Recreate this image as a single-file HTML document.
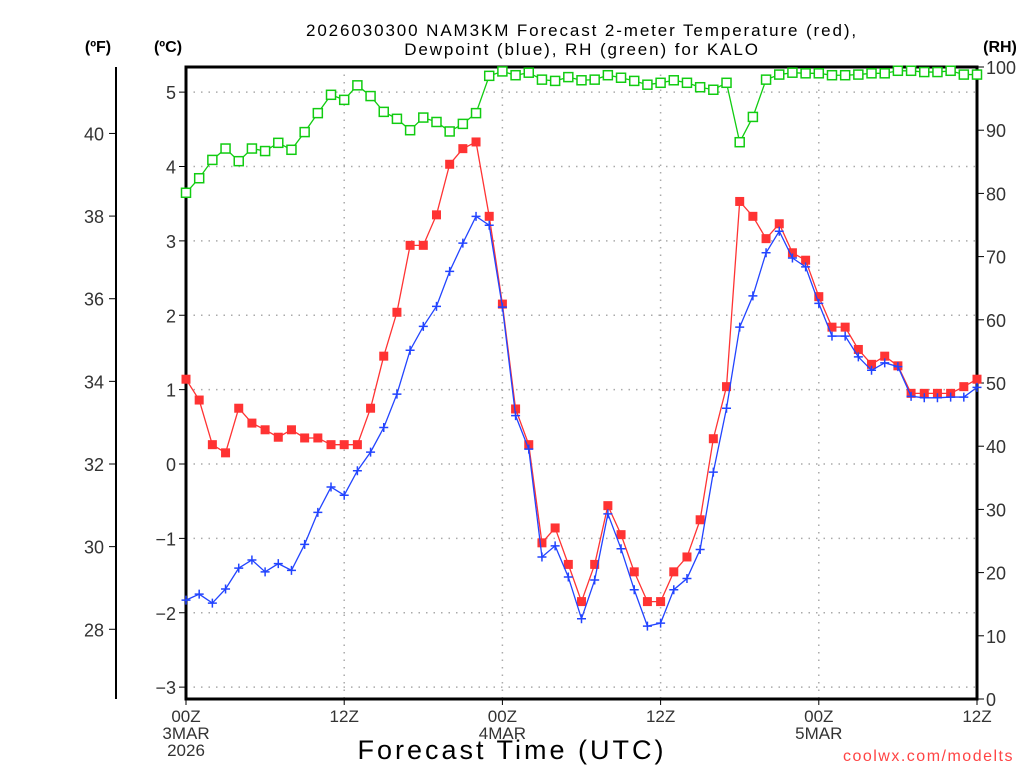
<!DOCTYPE html>
<html><head><meta charset="utf-8">
<style>
html,body{margin:0;padding:0;background:#fff;}
svg{display:block;font-family:"Liberation Sans","DejaVu Sans",sans-serif;}
</style></head>
<body>
<svg id="chart" width="1024" height="768" viewBox="0 0 1024 768" xmlns="http://www.w3.org/2000/svg">
<text x="582" y="36" font-size="17" text-anchor="middle" fill="#000" letter-spacing="1.9">2026030300 NAM3KM Forecast 2-meter Temperature (red),</text>
<text x="582" y="55" font-size="17" text-anchor="middle" fill="#000" letter-spacing="1.9">Dewpoint (blue), RH (green) for KALO</text>
<text x="98" y="52" font-size="16" font-weight="bold" text-anchor="middle">(ºF)</text>
<text x="168" y="52" font-size="16" font-weight="bold" text-anchor="middle">(ºC)</text>
<text x="1000" y="52" font-size="16" font-weight="bold" text-anchor="middle">(RH)</text>
<g id="grid"></g>
<g id="axes"></g>
<g id="series"></g>
<text x="512" y="759" font-size="27" text-anchor="middle" letter-spacing="3">Forecast Time (UTC)</text>
<text x="1014" y="761" font-size="16" text-anchor="end" fill="#ff4444" letter-spacing="1.5">coolwx.com/modelts</text>
</svg>
<script>
const hours = Array.from({length:61},(_,i)=>i);
const tempC = [1.14,0.86,0.26,0.15,0.75,0.55,0.46,0.36,0.46,0.35,0.35,0.26,0.26,0.26,0.75,1.45,2.04,2.94,2.94,3.35,4.03,4.24,4.33,3.33,2.15,0.74,0.26,-1.06,-0.86,-1.35,-1.85,-1.35,-0.56,-0.95,-1.45,-1.85,-1.85,-1.45,-1.25,-0.75,0.34,1.04,3.53,3.33,3.03,3.23,2.84,2.74,2.25,1.84,1.84,1.54,1.34,1.45,1.32,0.95,0.95,0.95,0.95,1.04,1.14];
const dewC = [-1.83,-1.75,-1.87,-1.68,-1.40,-1.29,-1.45,-1.34,-1.43,-1.08,-0.65,-0.31,-0.42,-0.09,0.16,0.49,0.94,1.53,1.85,2.12,2.59,2.97,3.33,3.21,2.11,0.65,0.20,-1.25,-1.10,-1.52,-2.08,-1.56,-0.67,-1.14,-1.69,-2.18,-2.14,-1.69,-1.54,-1.15,-0.11,0.75,1.84,2.26,2.84,3.13,2.77,2.65,2.16,1.72,1.72,1.44,1.26,1.36,1.31,0.91,0.89,0.89,0.90,0.90,1.03];
const rh = [80.1,82.4,85.3,87.1,85.1,87.1,86.7,88.0,86.9,89.7,92.7,95.6,94.8,97.1,95.4,92.9,91.8,90.0,92.0,91.3,89.8,91.0,92.7,98.6,99.3,98.7,99.1,98.0,97.8,98.4,97.9,98.0,98.7,98.3,97.8,97.2,97.5,97.9,97.5,96.8,96.4,97.5,88.1,92.1,98.0,98.8,99.1,99.0,99.0,98.7,98.7,98.8,99.0,99.0,99.4,99.4,99.2,99.2,99.4,98.8,98.8];
const cTicks = [5,4,3,2,1,0,-1,-2,-3];
const fTicks = [40,38,36,34,32,30,28];
const rhTicks = [0,10,20,30,40,50,60,70,80,90,100];
const xTickHours = [0,12,24,36,48,60];
const xTickLabels = [["00Z","3MAR","2026"],["12Z"],["00Z","4MAR"],["12Z"],["00Z","5MAR"],["12Z"]];

const L=186,R=977,T=67,B=699;
const xs=h=>L+(R-L)*h/60;
const yc=c=>464-74.375*c;
const yf=f=>yc((f-32)*5/9);
const yr=r=>B-(B-T)*r/100;
const NS="http://www.w3.org/2000/svg";
function mk(tag,attrs,parent,txt){const e=document.createElementNS(NS,tag);for(const k in attrs)e.setAttribute(k,attrs[k]);if(txt!==undefined)e.textContent=txt;parent.appendChild(e);return e;}
const grid=document.getElementById('grid'),axes=document.getElementById('axes'),ser=document.getElementById('series');

cTicks.forEach(c=>{const y=yc(c);
 const g=mk('line',{x1:L,x2:R,y1:y,y2:y,stroke:'#aaa','stroke-width':1.5,'stroke-dasharray':'1.5 6'},grid);
 
 
 const t=mk('line',{x1:L-7,x2:L,y1:y,y2:y,stroke:'#000'},axes);
 
 
 const lb=mk('text',{x:L-10,y:y+7,'font-size':18,'text-anchor':'end',fill:'#333'},axes,c<0?'\u2212'+(-c):String(c));
 
 
});
xTickHours.forEach((h,i)=>{const x=xs(h);
 if(h>0&&h<60){const g=mk('line',{x1:x,x2:x,y1:T,y2:B,stroke:'#aaa','stroke-width':1.5,'stroke-dasharray':'1.5 6'},grid);
  
  }
 const t=mk('line',{x1:x,x2:x,y1:B,y2:B+6,stroke:'#000'},axes);
 
 
 xTickLabels[i].forEach((s,j)=>{const lb=mk('text',{x:x,y:722+j*17,'font-size':17,'text-anchor':'middle',fill:'#333'},axes,s);
  
  });
});
const fl=mk('line',{x1:116,x2:116,y1:T,y2:B,stroke:'#000','stroke-width':2},axes);


fTicks.forEach(f=>{const y=yf(f);
 const t=mk('line',{x1:109,x2:116,y1:y,y2:y,stroke:'#000'},axes);
 
 
 const lb=mk('text',{x:104,y:y+7,'font-size':18,'text-anchor':'end',fill:'#333'},axes,String(f));
 
 
});
rhTicks.forEach(r=>{const y=yr(r);
 const t=mk('line',{x1:R,x2:R+7,y1:y,y2:y,stroke:'#000'},axes);
 
 
 const lb=mk('text',{x:R+9,y:y+7,'font-size':18,fill:'#333'},axes,String(r));
 
 
});
const frame=mk('rect',{x:L,y:T,width:R-L,height:B-T,fill:'none',stroke:'#000','stroke-width':3},axes);



function line(vals,yfn,color,name){
 const p=mk('polyline',{points:vals.map((v,i)=>xs(hours[i])+','+yfn(v)).join(' '),fill:'none',stroke:color,'stroke-width':1.3},ser);
 
 
}
line(rh,yr,'#11cc11','rh-line');
rh.forEach((v,i)=>{const m=mk('rect',{x:xs(hours[i])-4.5,y:yr(v)-4.5,width:9,height:9,fill:'#fff',stroke:'#11cc11','stroke-width':1.5},ser);
 
 });
line(tempC,yc,'#ff3333','temperature-line');
tempC.forEach((v,i)=>{const m=mk('rect',{x:xs(hours[i])-4.5,y:yc(v)-4.5,width:9,height:9,fill:'#f33'},ser);
 
 });
line(dewC,yc,'#2244ff','dewpoint-line');
dewC.forEach((v,i)=>{const x=xs(hours[i]),y=yc(v);
 const m=mk('path',{d:`M${x-4.5},${y}H${x+4.5}M${x},${y-4.5}V${y+4.5}`,stroke:'#2244ff','stroke-width':1.5},ser);
 
 });
</script>
</body></html>
